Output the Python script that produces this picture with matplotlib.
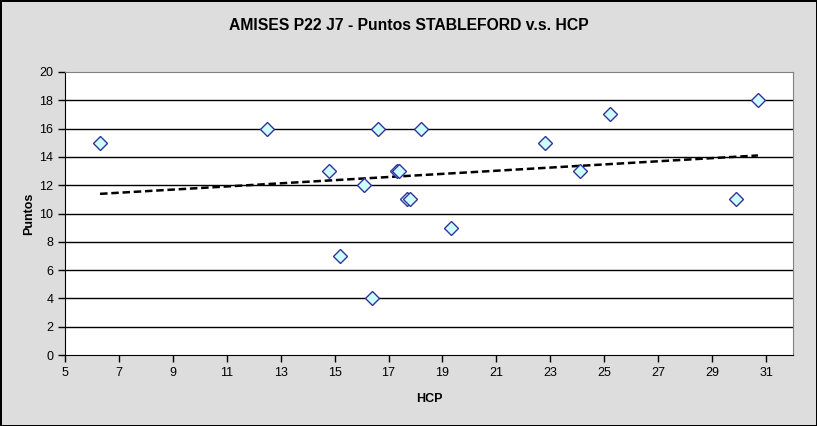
import numpy as np
import matplotlib.pyplot as plt

plt.rcParams['font.family'] = ['Liberation Sans', 'DejaVu Sans']

# HCP vs Stableford points
hcp = [6.3, 12.5, 14.8, 15.2, 16.1, 16.4, 16.6, 17.3, 17.4, 17.7, 17.8,
       18.2, 19.3, 22.8, 24.1, 25.2, 29.9, 30.7]
puntos = [15, 16, 13, 7, 12, 4, 16, 13, 13, 11, 11,
          16, 9, 15, 13, 17, 11, 18]

x_ticks = list(range(5, 32, 2))
y_ticks = list(range(0, 21, 2))

fig = plt.figure(figsize=(8.17, 4.26), dpi=100, facecolor='#DDDDDD',
                 edgecolor='black', linewidth=1)
ax = fig.add_axes([65 / 817, 71 / 426, 728 / 817, 283 / 426])
ax.set_facecolor('white')

# horizontal gridlines
for yv in y_ticks[1:-1]:
    ax.axhline(yv, color='black', lw=1, zorder=1)

ax.plot(hcp, puntos, linestyle='none', marker='D', markersize=7,
        markerfacecolor='#CCFFFF', markeredgecolor='#333399',
        markeredgewidth=1, zorder=3)

# linear trendline
slope, intercept = np.polyfit(hcp, puntos, 1)
xs = np.array([min(hcp), max(hcp)])
ax.plot(xs, slope * xs + intercept, color='black', lw=1.8,
        linestyle=(0, (3, 1.5)), zorder=2)

ax.set_xlim(5, 32)
ax.set_ylim(0, 20)
ax.set_xticks(x_ticks)
ax.set_yticks(y_ticks)
ax.tick_params(direction='out', length=5, width=1, colors='black',
               labelsize=9)

ax.spines['left'].set_color('black')
ax.spines['bottom'].set_color('black')
ax.spines['top'].set_color('#808080')
ax.spines['right'].set_color('#808080')

ax.set_xlabel('HCP', fontsize=9, fontweight='bold', labelpad=10)
ax.set_ylabel('Puntos', fontsize=9, fontweight='bold', labelpad=3)

fig.text(0.5, 1 - 26 / 426, 'AMISES P22 J7 - Puntos STABLEFORD v.s. HCP',
         ha='center', va='center', fontsize=11.3, fontweight='bold')

fig.savefig('out.png', dpi=100, facecolor=fig.get_facecolor(),
            edgecolor=fig.get_edgecolor())
